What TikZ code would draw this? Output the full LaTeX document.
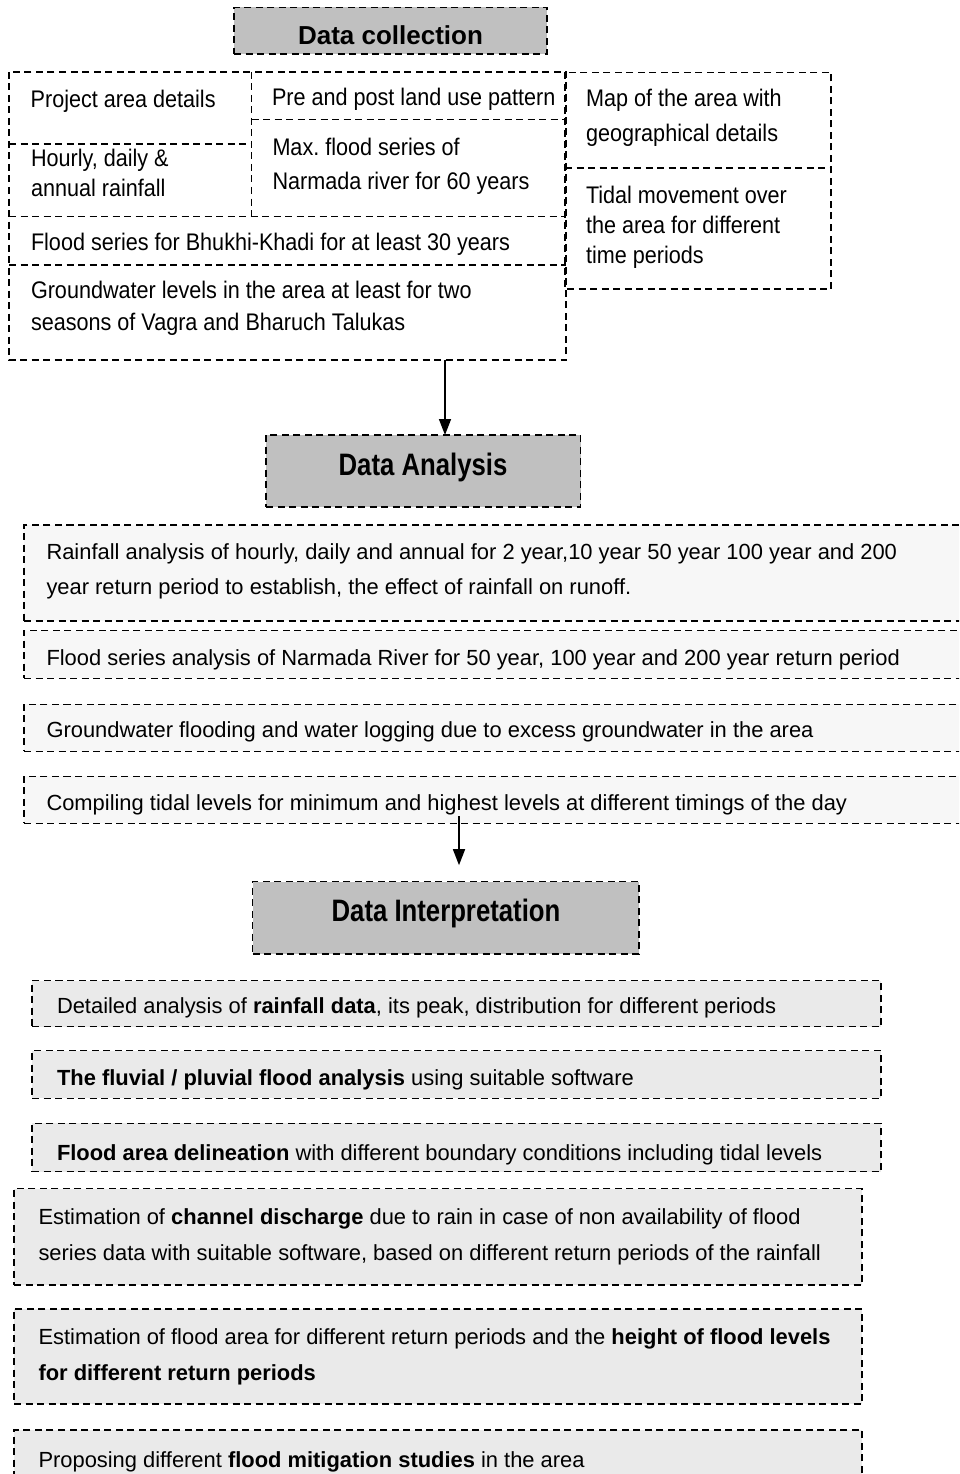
\documentclass[tikz,border=0pt]{standalone}
\usepackage{fontspec}
\setmainfont{Liberation Sans}
\newfontfamily\topfont{Liberation Sans}[FakeStretch=0.9]
\newfontfamily\headfont{Liberation Sans}[FakeStretch=0.83]
\usetikzlibrary{arrows.meta}
\definecolor{headgrey}{HTML}{C0C0C0}
\definecolor{anafill}{HTML}{F7F7F7}
\definecolor{intfill}{HTML}{EAEAEA}
\tikzset{
  dashln/.style={draw=black, line width=1.3pt, dash pattern=on 7pt off 4.5pt},
  cell/.style={dashln, rectangle, inner sep=0pt, outer sep=0pt, anchor=north west},
  area/.style={rectangle, inner sep=0pt, outer sep=0pt, anchor=north west},
  headbox/.style={cell, fill=headgrey},
  anabox/.style={cell, fill=anafill},
  intbox/.style={cell, fill=intfill},
  toptxt/.style={inner sep=0pt, outer sep=0pt, align=left, font=\topfont\fontsize{24}{#1}\selectfont},
  toptxt/.default=30,
  lowtxt/.style={inner sep=0pt, outer sep=0pt, align=left, font=\fontsize{21.9}{#1}\selectfont},
  lowtxt/.default=29,
  headtxt/.style={inner sep=0pt, outer sep=0pt, font=\headfont\bfseries\fontsize{31}{36}\selectfont},
  dctxt/.style={inner sep=0pt, outer sep=0pt, font=\bfseries\fontsize{26}{30}\selectfont},
  arr/.style={line width=1.5pt, -{Triangle[width=12pt,length=16pt]}}
}
\begin{document}
\begin{tikzpicture}[x=1pt,y=-1pt]
\useasboundingbox (0,0) rectangle (959,1474);
\clip (0,0) rectangle (959,1474);
\fill[white] (0,0) rectangle (959,1474);

% ---------- Data collection ----------
\node[headbox, minimum width=313pt, minimum height=46.7pt] (dc) at (234,7.3) {};
\node[dctxt, anchor=base] (dct) at (390.5,45) {Data collection};

% cell areas (borders drawn once below)
\node[area, minimum width=242.5pt, minimum height=72pt] (c1) at (9,72) {};
\node[area, minimum width=242.5pt, minimum height=72.7pt] (c2) at (9,144) {};
\node[area, minimum width=314.5pt, minimum height=47.3pt] (c3) at (251.5,72) {};
\node[area, minimum width=314.5pt, minimum height=97.4pt] (c4) at (251.5,119.3) {};
\node[area, minimum width=557pt, minimum height=48.3pt] (c5) at (9,216.7) {};
\node[area, minimum width=557pt, minimum height=95pt] (c6) at (9,265) {};
\node[area, minimum width=266pt, minimum height=95.5pt] (c7) at (565,72.5) {};
\node[area, minimum width=266pt, minimum height=121pt] (c8) at (565,168) {};

\draw[dashln] (c1.north west) rectangle (c6.south east);
\draw[dashln] (c3.north west) -- (c4.south west);
\draw[dashln] (c1.south west) -- (c1.south east);
\draw[dashln] (c3.south west) -- (c3.south east);
\draw[dashln] (c5.north west) -- (c5.north east);
\draw[dashln] (c6.north west) -- (c6.north east);
\draw[dashln] (c7.north west) rectangle (c8.south east);
\draw[dashln] (c8.north west) -- (c8.north east);

\node[toptxt, anchor=base west] (t1) at (30.7,107.3) {Project area details};
\node[toptxt=30, anchor=north west] (t2) at (31,149.5) {Hourly, daily \&\\annual rainfall};
\node[toptxt, anchor=base west] (t3) at (272,106) {Pre and post land use pattern};
\node[toptxt=34, anchor=north west] (t4) at (272.5,137.8) {Max.\ flood series of\\Narmada river for 60 years};
\node[toptxt, anchor=base west] (t5) at (31,250.7) {Flood series for Bhukhi-Khadi for at least 30 years};
\node[toptxt=32, anchor=north west] (t6) at (31,281.1) {Groundwater levels in the area at least for two\\seasons of Vagra and Bharuch Talukas};
\node[toptxt=35.7, anchor=north west] (t7) at (586,88.8) {Map of the area with\\geographical details};
\node[toptxt=30, anchor=north west] (t8) at (586,186.1) {Tidal movement over\\the area for different\\time periods};

% ---------- Data Analysis ----------
\node[headbox, minimum width=314.7pt, minimum height=72pt] (da) at (266,435) {};
\node[headtxt, anchor=base] (dat) at (423,475) {Data Analysis};

\coordinate (ax1) at (445,0);
\draw[arr] (c6.south -| ax1) -- (da.north -| ax1);

\node[anabox, minimum width=960pt, minimum height=96pt] (a1) at (24,525) {};
\node[lowtxt=35, anchor=north west] (a1t) at (46.5,543.6) {Rainfall analysis of hourly, daily and annual for 2 year,10 year 50 year 100 year and 200\\year return period to establish, the effect of rainfall on runoff.};
\node[anabox, minimum width=960pt, minimum height=47.8pt] (a2) at (24,630.5) {};
\node[lowtxt, anchor=base west] (a2t) at (46.5,665.7) {Flood series analysis of Narmada River for 50 year, 100 year and 200 year return period};
\node[anabox, minimum width=960pt, minimum height=47pt] (a3) at (24,704.3) {};
\node[lowtxt, anchor=base west] (a3t) at (46.5,737) {Groundwater flooding and water logging due to excess groundwater in the area};
\node[anabox, minimum width=960pt, minimum height=47pt] (a4) at (24,776.3) {};
\node[lowtxt, anchor=base west] (a4t) at (46.5,810) {Compiling tidal levels for minimum and highest levels at different timings of the day};

% ---------- Data Interpretation ----------
\node[headbox, minimum width=386.4pt, minimum height=72.3pt] (di) at (252.6,881.7) {};
\node[headtxt, anchor=base] (dit) at (446,921) {Data Interpretation};

\coordinate (ax2) at (459,816);
\draw[arr, shorten >=16.5pt] (ax2) -- (di.north -| ax2);

\node[intbox, minimum width=849pt, minimum height=46pt] (i1) at (32,980.7) {};
\node[lowtxt, anchor=base west] (i1t) at (57,1013) {Detailed analysis of \textbf{rainfall data}, its peak, distribution for different periods};
\node[intbox, minimum width=849pt, minimum height=47.6pt] (i2) at (32,1050.7) {};
\node[lowtxt, anchor=base west] (i2t) at (57,1085) {\textbf{The fluvial / pluvial flood analysis} using suitable software};
\node[intbox, minimum width=849pt, minimum height=48.4pt] (i3) at (32,1123.3) {};
\node[lowtxt, anchor=base west] (i3t) at (57,1160) {\textbf{Flood area delineation} with different boundary conditions including tidal levels};
\node[intbox, minimum width=848pt, minimum height=96.3pt] (i4) at (14,1188.7) {};
\node[lowtxt=36, anchor=north west] (i4t) at (38.5,1208.3) {Estimation of \textbf{channel discharge} due to rain in case of non availability of flood\\series data with suitable software, based on different return periods of the rainfall};
\node[intbox, minimum width=848pt, minimum height=95pt] (i5) at (14,1309) {};
\node[lowtxt=36, anchor=north west] (i5t) at (38.5,1328.3) {Estimation of flood area for different return periods and the \textbf{height of flood levels}\\\textbf{for different return periods}};
\node[intbox, minimum width=848pt, minimum height=80pt] (i6) at (14,1430) {};
\node[lowtxt, anchor=base west] (i6t) at (38.5,1467) {Proposing different \textbf{flood mitigation studies} in the area};
\end{tikzpicture}
\end{document}
